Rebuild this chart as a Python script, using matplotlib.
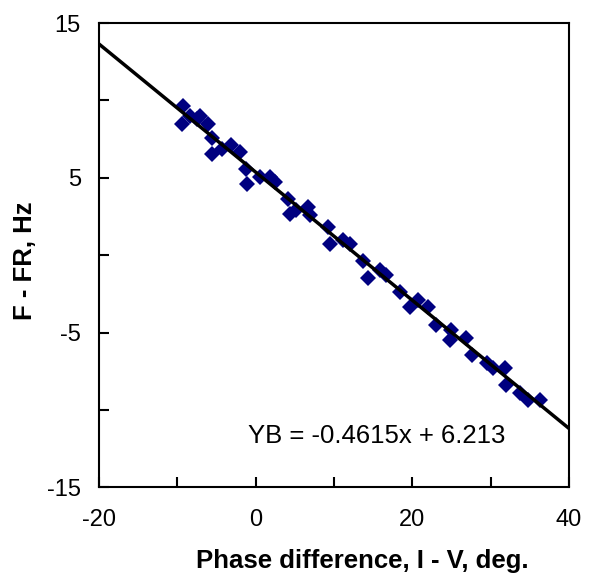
import numpy as np
import matplotlib
matplotlib.use("Agg")
import matplotlib.pyplot as plt

plt.rcParams['font.family'] = ['Liberation Sans', 'DejaVu Sans']

# measured points (phase difference, deg ; F - FR, Hz)
phase = [-9.3, -9.45, -8.4, -7.5, -7.1, -6.05, -5.6, -5.6, -4.3, -3.1,
         -2.0, -1.2, -1.1, 0.55, 1.8, 2.45, 4.2, 4.4, 5.2, 6.7,
         6.9, 9.3, 9.5, 11.2, 12.0, 13.7, 14.4, 15.9, 16.7, 18.4,
         19.7, 20.8, 22.0, 23.1, 25.0, 24.8, 26.9, 27.6, 29.5, 30.3,
         31.8, 32.0, 33.8, 34.8, 36.3]
df = [9.66, 8.48, 9.0, 8.8, 9.0, 8.48, 7.6, 6.55, 6.87, 7.1,
      6.65, 5.6, 4.6, 5.04, 5.04, 4.72, 3.6, 2.68, 2.9, 3.1,
      2.57, 1.8, 0.75, 1.0, 0.75, -0.4, -1.5, -0.97, -1.29, -2.37,
      -3.33, -2.9, -3.33, -4.51, -4.83, -5.48, -5.37, -6.44, -6.98, -7.3,
      -7.3, -8.37, -8.9, -9.34, -9.34]

# trend line as drawn on the chart
trend_slope = -0.414
trend_intercept = 5.37
equation = 'YB = -0.4615x + 6.213'

fig = plt.figure(figsize=(5.91, 5.78), dpi=100)
ax = fig.add_axes([0.1675, 0.157, 0.795, 0.803])

ax.plot(phase, df, linestyle='none', marker='D', markersize=8.5,
        color='#000080', markeredgewidth=0)
xl = np.array([-20, 40])
ax.plot(xl, trend_slope * xl + trend_intercept, color='black', linewidth=2.5)

ax.set_xlim(-20, 40)
ax.set_ylim(-15, 15)
ax.set_xticks([-20, -10, 0, 10, 20, 30, 40])
ax.set_xticklabels(['-20', '', '0', '', '20', '', '40'])
ax.set_yticks([-15, -10, -5, 0, 5, 10, 15])
ax.set_yticklabels(['-15', '', '-5', '', '5', '', '15'])
ax.tick_params(axis='both', direction='in', length=7, width=1.5,
               labelsize=17)
ax.tick_params(axis='x', pad=16)
ax.tick_params(axis='y', pad=13)
for s in ax.spines.values():
    s.set_linewidth(1.5)

ax.text(-1.0, -11.66, equation, fontsize=18.5, ha='left', va='center')

ax.set_xlabel('Phase difference, I - V, deg.', fontsize=18.5,
              fontweight='bold', va='center')
ax.xaxis.set_label_coords(0.56, -0.159)
ax.set_ylabel('F - FR, Hz', fontsize=18.5, fontweight='bold', va='center')
ax.yaxis.set_label_coords(-0.158, 0.489)

fig.savefig('out.png', dpi=100)
